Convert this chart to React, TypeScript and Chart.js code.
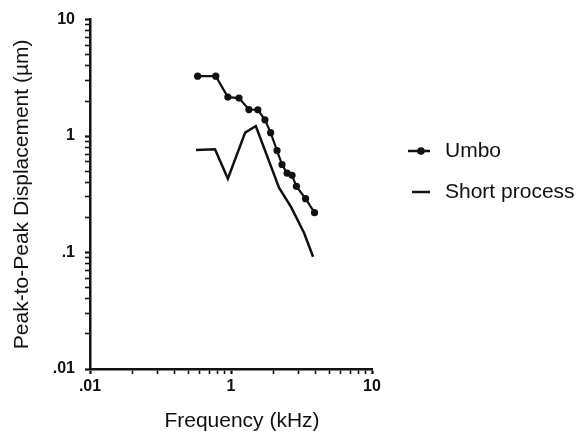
import { useEffect, useRef } from "react";
import { Chart, registerables } from "chart.js";

Chart.register(...registerables);

// Umbo series (frequency in kHz, displacement in µm)
const umboFreq = [0.58, 0.78, 0.95, 1.14, 1.34, 1.55, 1.74, 1.91, 2.12, 2.3, 2.5, 2.71, 2.91, 3.38, 3.91];
const umboDisp = [3.27, 3.27, 2.16, 2.12, 1.69, 1.68, 1.38, 1.07, 0.75, 0.57, 0.48, 0.46, 0.37, 0.29, 0.22];

// Short process series
const shortFreq = [0.565, 0.77, 0.95, 1.26, 1.5, 2.19, 2.67, 3.3, 3.82];
const shortDisp = [0.76, 0.77, 0.43, 1.07, 1.22, 0.36, 0.245, 0.147, 0.092];

// Axis ticks
const xTicks = [0.1, 0.2, 0.3, 0.4, 0.5, 0.6, 0.7, 0.8, 0.9, 1, 2, 3, 4, 5, 6, 7, 8, 9, 10];
const xLabelValues = [0.1, 1, 10];
const xLabelTexts = [".01", "1", "10"];
const yTicks = [
  0.01, 0.02, 0.03, 0.04, 0.05, 0.06, 0.07, 0.08, 0.09,
  0.1, 0.2, 0.3, 0.4, 0.5, 0.6, 0.7, 0.8, 0.9,
  1, 2, 3, 4, 5, 6, 7, 8, 9, 10,
];
const yLabelValues = [0.01, 0.1, 1, 10];
const yLabelTexts = [".01", ".1", "1", "10"];

const seriesNames = ["Umbo", "Short process"];
const xTitle = "Frequency (kHz)";
const yTitle = "Peak-to-Peak Displacement (µm)";

const FONT = "'Liberation Sans', Arial, Helvetica, sans-serif";
const INK = "#111111";

function findIdx(list: number[], v: number) {
  return list.findIndex((x) => Math.abs(x - v) < 1e-9 * Math.max(1, Math.abs(x)));
}

const overlayPlugin = {
  id: "overlay",
  afterDraw(chart: any) {
    const ctx = chart.ctx as CanvasRenderingContext2D;
    ctx.save();
    // x-axis title
    ctx.fillStyle = INK;
    ctx.font = `21px ${FONT}`;
    ctx.textAlign = "center";
    ctx.textBaseline = "alphabetic";
    ctx.fillText(xTitle, 242, 427);

    // legend
    ctx.strokeStyle = INK;
    ctx.fillStyle = INK;
    ctx.lineWidth = 2.5;
    ctx.beginPath();
    ctx.moveTo(408, 151);
    ctx.lineTo(430, 151);
    ctx.stroke();
    ctx.beginPath();
    ctx.arc(421, 151, 3.8, 0, Math.PI * 2);
    ctx.fill();
    ctx.beginPath();
    ctx.moveTo(412, 192);
    ctx.lineTo(430, 192);
    ctx.stroke();
    ctx.font = `21px ${FONT}`;
    ctx.textAlign = "left";
    ctx.textBaseline = "middle";
    ctx.fillText(seriesNames[0], 445, 151);
    ctx.fillText(seriesNames[1], 445, 192);
    ctx.restore();
  },
};

export default function App() {
  const ref = useRef<HTMLCanvasElement | null>(null);

  useEffect(() => {
    if (!ref.current) return;
    const chart = new Chart(ref.current, {
      type: "line",
      data: {
        datasets: [
          {
            label: seriesNames[0],
            data: umboFreq.map((f, i) => ({ x: f, y: umboDisp[i] })),
            borderColor: INK,
            backgroundColor: INK,
            borderWidth: 2.2,
            pointRadius: 3.6,
            pointBackgroundColor: INK,
            pointBorderWidth: 0,
            tension: 0,
          },
          {
            label: seriesNames[1],
            data: shortFreq.map((f, i) => ({ x: f, y: shortDisp[i] })),
            borderColor: INK,
            backgroundColor: INK,
            borderWidth: 2.5,
            pointRadius: 0,
            tension: 0,
          },
        ],
      },
      options: {
        responsive: false,
        animation: false,
        layout: { padding: { left: 0, right: 208, top: 17, bottom: 0 } },
        plugins: {
          legend: { display: false },
          tooltip: { enabled: false },
        },
        scales: {
          x: {
            type: "logarithmic",
            min: 0.1,
            max: 10,
            afterBuildTicks: (scale: any) => {
              scale.ticks = xTicks.map((v) => ({ value: v }));
            },
            afterFit: (scale: any) => {
              scale.height = 62;
            },
            border: { display: true, color: INK, width: 2.5 },
            grid: {
              display: true,
              drawOnChartArea: false,
              drawTicks: true,
              tickLength: 5,
              color: INK,
              tickColor: INK,
              tickWidth: (c: any) => (findIdx(xLabelValues, c.tick?.value) >= 0 ? 2.2 : 1.6),
            },
            ticks: {
              autoSkip: false,
              maxRotation: 0,
              padding: 3,
              color: INK,
              font: { family: FONT, size: 16, weight: "bold" },
              callback: (value: any) => {
                const i = findIdx(xLabelValues, Number(value));
                return i >= 0 ? xLabelTexts[i] : "";
              },
            },
            title: { display: false },
          },
          y: {
            type: "logarithmic",
            min: 0.01,
            max: 10,
            afterBuildTicks: (scale: any) => {
              scale.ticks = yTicks.map((v) => ({ value: v }));
            },
            afterFit: (scale: any) => {
              scale.width = 90;
            },
            border: { display: true, color: INK, width: 2.5 },
            grid: {
              display: true,
              drawOnChartArea: false,
              drawTicks: true,
              tickLength: 5,
              color: INK,
              tickColor: INK,
              tickWidth: (c: any) => (findIdx(yLabelValues, c.tick?.value) >= 0 ? 2.2 : 1.6),
            },
            ticks: {
              autoSkip: false,
              padding: 10,
              color: INK,
              font: { family: FONT, size: 16, weight: "bold" },
              callback: (value: any) => {
                const i = findIdx(yLabelValues, Number(value));
                return i >= 0 ? yLabelTexts[i] : "";
              },
            },
            title: {
              display: true,
              text: yTitle,
              color: INK,
              font: { family: FONT, size: 21 },
              padding: { top: 10, bottom: 0 },
            },
          },
        },
      },
      plugins: [overlayPlugin],
    });
    return () => chart.destroy();
  }, []);

  return (
    <div style={{ position: "absolute", left: 0, top: 0, width: 580, height: 431, background: "#fff" }}>
      <canvas ref={ref} width={580} height={431} style={{ display: "block" }} />
    </div>
  );
}
